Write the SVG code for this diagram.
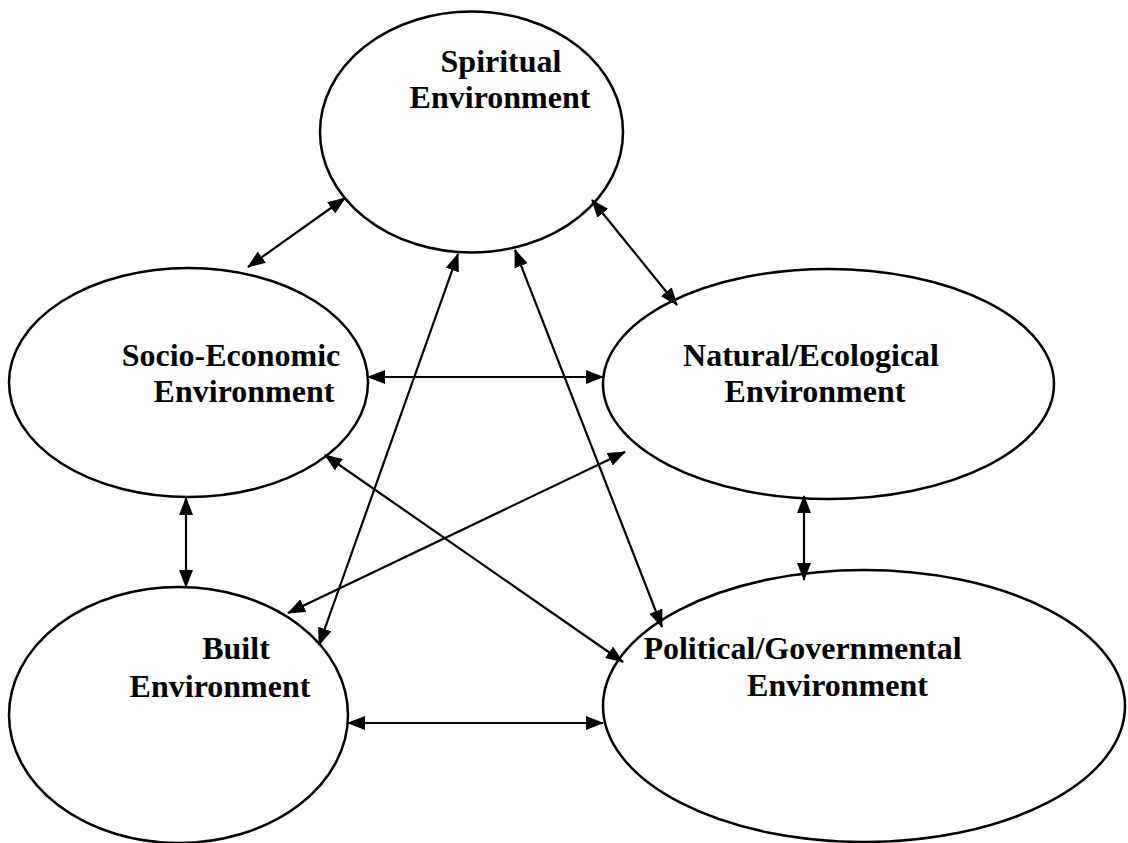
<svg xmlns="http://www.w3.org/2000/svg" width="1128" height="843" viewBox="0 0 1128 843">
<style>
.node ellipse{fill:#fff;stroke:#000;stroke-width:2.5}
.node text{font-family:"Liberation Serif","Times New Roman",serif;font-weight:bold;font-size:32px;fill:#000;text-anchor:middle}
.conn line{stroke:#000;stroke-width:2.2;marker-start:url(#ah);marker-end:url(#ah)}
</style>
<defs>
<marker id="ah" viewBox="0 0 18 14" refX="17" refY="7" markerWidth="18" markerHeight="14" markerUnits="userSpaceOnUse" orient="auto-start-reverse">
<path d="M0,0 L18,7 L0,14 z" fill="#000"/>
</marker>
</defs>
<rect width="1128" height="843" fill="#fff"/>
<g id="spiritual" class="node">
<ellipse cx="471.5" cy="132" rx="151.5" ry="120.5"/>
<text x="501" y="72">Spiritual</text>
<text x="500" y="108">Environment</text>
</g>
<g id="socio" class="node">
<ellipse cx="188.5" cy="382.5" rx="179.5" ry="114.5"/>
<text x="231" y="366">Socio-Economic</text>
<text x="244" y="402">Environment</text>
</g>
<g id="natural" class="node">
<ellipse cx="828.5" cy="384" rx="225.5" ry="115"/>
<text x="811" y="366">Natural/Ecological</text>
<text x="815" y="402">Environment</text>
</g>
<g id="built" class="node">
<ellipse cx="178.5" cy="715" rx="169.5" ry="128"/>
<text x="236" y="659">Built</text>
<text x="220" y="697">Environment</text>
</g>
<g id="political" class="node">
<ellipse cx="864" cy="706" rx="261" ry="136"/>
<text x="802.5" y="659">Political/Governmental</text>
<text x="837.5" y="696">Environment</text>
</g>
<g id="connectors" class="conn">
<line x1="345" y1="198" x2="248" y2="267"/>
<line x1="592" y1="200" x2="677" y2="305"/>
<line x1="368" y1="377" x2="603" y2="377"/>
<line x1="458" y1="254" x2="319" y2="645"/>
<line x1="515" y1="250" x2="662" y2="627"/>
<line x1="325" y1="455" x2="623" y2="662"/>
<line x1="625" y1="452" x2="288" y2="613"/>
<line x1="186" y1="498" x2="186" y2="587"/>
<line x1="804" y1="496" x2="804" y2="580"/>
<line x1="348" y1="723" x2="603" y2="723"/>
</g>
</svg>
